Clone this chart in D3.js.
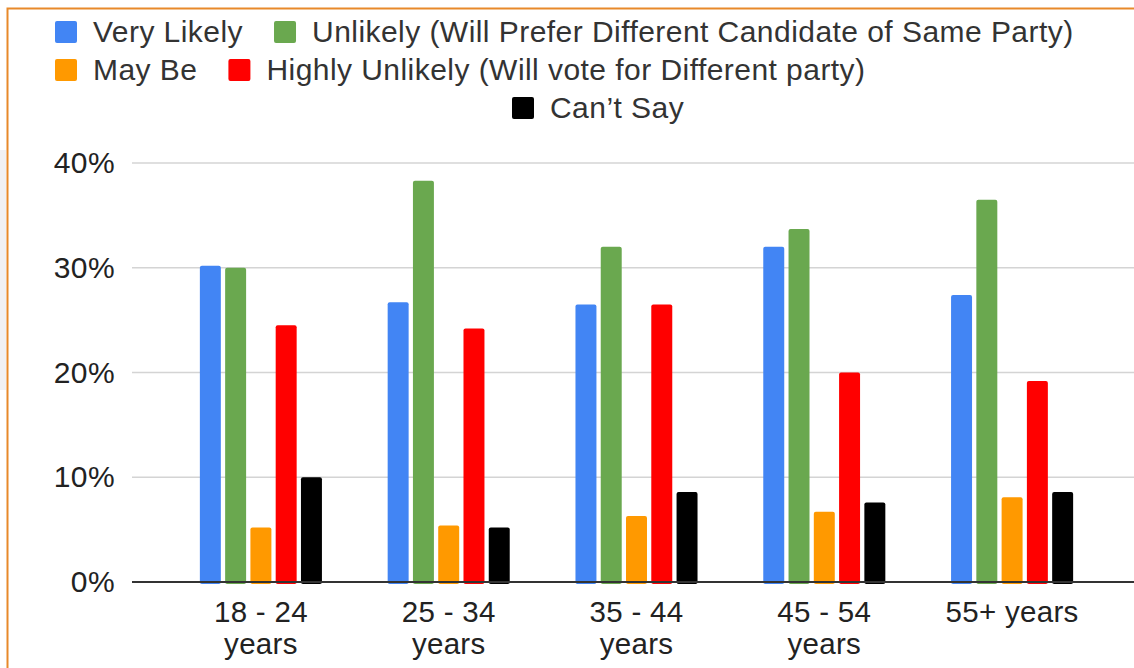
<!DOCTYPE html>
<html>
<head>
<meta charset="utf-8">
<script src="https://cdn.jsdelivr.net/npm/d3@7"></script>
<style>
  html, body { margin: 0; padding: 0; background: #ffffff; }
  svg { display: block; font-family: "Liberation Sans", Arial, sans-serif; }
</style>
</head>
<body>
<svg id="chart" width="1134" height="668"></svg>
<script>
const categories = [["18 - 24", "years"], ["25 - 34", "years"], ["35 - 44", "years"], ["45 - 54", "years"], ["55+ years"]];
const seriesNames = ["Very Likely", "Unlikely (Will Prefer Different Candidate of Same Party)", "May Be", "Highly Unlikely (Will vote for Different party)", "Can\u2019t Say"];
const seriesColors = ["#4285f4", "#6aa84f", "#ff9900", "#ff0000", "#000000"];
const veryLikely     = [30.2, 26.7, 26.5, 32.0, 27.4];
const unlikely       = [30.0, 38.3, 32.0, 33.7, 36.5];
const mayBe          = [5.2, 5.4, 6.3, 6.7, 8.1];
const highlyUnlikely = [24.5, 24.2, 26.5, 20.0, 19.2];
const cantSay        = [10.0, 5.2, 8.6, 7.6, 8.6];
const yTicks = [0, 10, 20, 30, 40];

const seriesValues = [veryLikely, unlikely, mayBe, highlyUnlikely, cantSay];
const catKeys = categories.map(c => c.join(" "));

const svg = d3.select("#chart");

// faint grey outside the frame, and orange frame
svg.append("rect").attr("x", 0).attr("y", 150).attr("width", 6).attr("height", 240).attr("fill", "#f1f1f4");
svg.append("path")
  .attr("d", "M7.5,668 L7.5,8.5 L1134,8.5")
  .attr("fill", "none").attr("stroke", "#e8892a").attr("stroke-width", 2);

const y = d3.scaleLinear().domain([0, 40]).range([582, 163]);
const x0 = d3.scaleBand().domain(catKeys).range([167, 1106]).paddingInner(0.35).paddingOuter(0.175);
const x1 = d3.scaleBand().domain(d3.range(seriesNames.length)).range([0, x0.bandwidth()]).paddingInner(0.17);

// gridlines
svg.append("g").selectAll("line").data(yTicks.filter(t => t > 0)).join("line")
  .attr("x1", 132).attr("x2", 1134)
  .attr("y1", d => y(d)).attr("y2", d => y(d))
  .attr("stroke", "#d4d4d4").attr("stroke-width", 1.5);

// y labels
svg.append("g").selectAll("text").data(yTicks).join("text")
  .attr("x", 115).attr("y", d => y(d) + 10)
  .attr("text-anchor", "end")
  .attr("font-size", 30).attr("letter-spacing", 0.4).attr("fill", "#222")
  .text(d => d + "%");

// bars
const groups = svg.append("g").selectAll("g").data(catKeys).join("g")
  .attr("transform", d => `translate(${x0(d)},0)`);
groups.selectAll("rect").data((d, i) => seriesValues.map((vals, s) => ({ s, v: vals[i] }))).join("rect")
  .attr("x", d => x1(d.s))
  .attr("width", x1.bandwidth())
  .attr("y", d => y(d.v))
  .attr("height", d => y(0) - y(d.v) + 2)
  .attr("rx", 2)
  .attr("fill", d => seriesColors[d.s]);

// baseline
svg.append("line").attr("x1", 132).attr("x2", 1134).attr("y1", y(0)).attr("y2", y(0))
  .attr("stroke", "#333").attr("stroke-width", 2);

// x labels
const xl = svg.append("g").selectAll("text").data(categories).join("text")
  .attr("x", (d, i) => x0(catKeys[i]) + x0.bandwidth() / 2)
  .attr("y", 622)
  .attr("text-anchor", "middle")
  .attr("font-size", 29.5).attr("letter-spacing", 0.3).attr("fill", "#222");
xl.selectAll("tspan").data(d => d).join("tspan")
  .attr("x", function () { return d3.select(this.parentNode).attr("x"); })
  .attr("dy", (d, i) => i === 0 ? 0 : 32)
  .text(d => d);

// legend
const legendRows = [
  { y: 42, items: [0, 1], startX: 55 },
  { y: 80, items: [2, 3], startX: 55 },
  { y: 118, items: [4], startX: 512 }
];
const lg = svg.append("g");
legendRows.forEach(row => {
  let cx = row.startX;
  row.items.forEach(s => {
    lg.append("rect").attr("x", cx).attr("y", row.y - 21).attr("width", 22).attr("height", 22)
      .attr("rx", 2).attr("fill", seriesColors[s]);
    const t = lg.append("text").attr("x", cx + 38).attr("y", row.y)
      .attr("font-size", 30).attr("letter-spacing", 0.45).attr("fill", "#333").text(seriesNames[s]);
    const w = t.node().getComputedTextLength();
    cx = cx + 38 + w + 31;
  });
});
</script>
</body>
</html>
